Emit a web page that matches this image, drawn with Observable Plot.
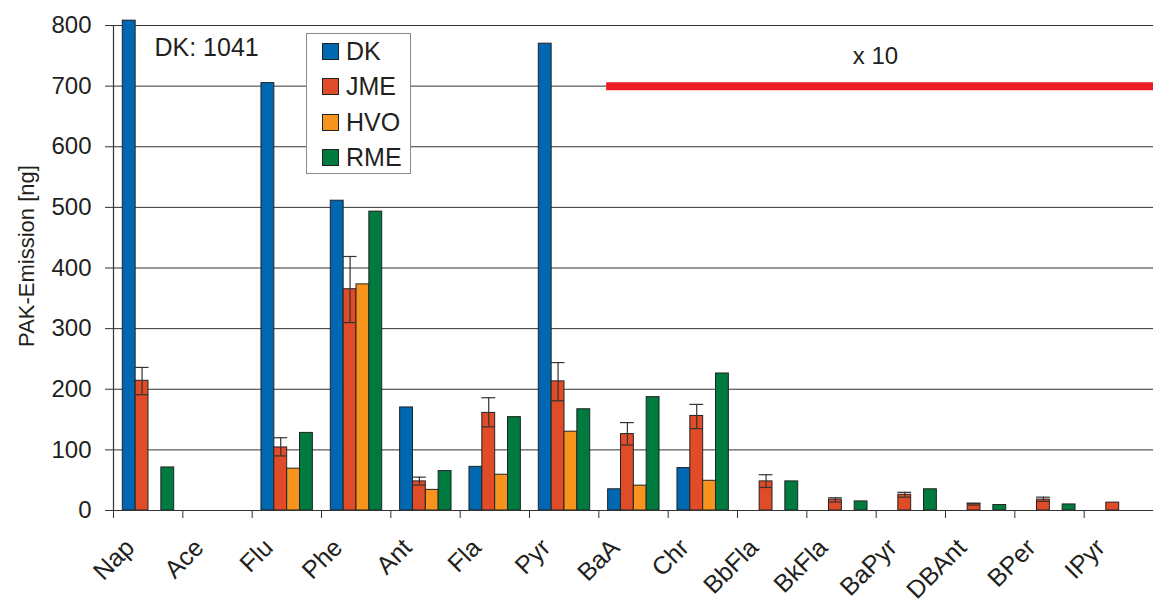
<!DOCTYPE html>
<html>
<head>
<meta charset="utf-8">
<script src="https://cdn.jsdelivr.net/npm/d3@7"></script>
<script src="https://cdn.jsdelivr.net/npm/@observablehq/plot@0.6"></script>
<style>
  html, body { margin: 0; padding: 0; background: #fff; }
  #wrap { position: relative; width: 1153px; height: 603px; font-family: "Liberation Sans", Arial, sans-serif; }
  #legend { position: absolute; left: 306px; top: 33px; width: 103px; height: 139px; border: 1.5px solid #8a8a8a; background: #fff; }
  .item { position: absolute; left: 15px; height: 30px; display: flex; align-items: center; font-size: 25px; color: #231f20; }
  .sw { width: 15px; height: 15px; border: 1px solid #222; margin-right: 7px; }
</style>
</head>
<body>
<div id="wrap"></div>
<script>
// ---- data ----
const categories = ["Nap","Ace","Flu","Phe","Ant","Fla","Pyr","BaA","Chr","BbFla","BkFla","BaPyr","DBAnt","BPer","IPyr"];
const series = ["DK","JME","HVO","RME"];
const colors = ["#0067b1","#e04c27","#f7941e","#007b3f"];
const dk  = [1041, 0, 705, 511, 170, 72, 770, 35, 70, 0, 0, 0, 0, 0, 0];
const jme = [214, 0, 104, 365, 48, 161, 213, 126, 156, 48, 18, 26, 11, 18, 13];
const hvo = [0, 0, 69, 373, 34, 59, 130, 41, 49, 0, 0, 0, 0, 0, 0];
const rme = [71, 0, 128, 493, 65, 154, 167, 187, 226, 48, 15, 35, 9, 10, 0];
const jmeLow  = [191, null, 90, 310, 42, 138, 181, 108, 135, 38, 14, 22, 9, 15, null];
const jmeHigh = [236, null, 120, 419, 55, 186, 244, 145, 175, 59, 21, 30, 12, 22, null];
const yTicks = [0, 100, 200, 300, 400, 500, 600, 700, 800];
const yLabel = "PAK-Emission [ng]";
const factorSpan = [{from: "BaA", to: "IPyr", level: 700, note: "x 10"}];
const clipTop = 808; // bar drawn broken at top of axis

// ---- layout ----
const W = 1153, H = 603, mL = 113, mR = 0, mT = 25, mB = 93;
const band = (W - mL - mR) / categories.length;
const gpad = 9.3, bw = 12.85;

const values = [dk, jme, hvo, rme];
const rows = [];
categories.forEach((c, j) => series.forEach((s, i) => rows.push({cat: c, series: s, value: values[i][j]})));
const errRows = categories.map((c, j) => ({cat: c, lo: jmeLow[j], hi: jmeHigh[j]})).filter(d => d.lo != null);

const barMarks = series.map((s, i) => Plot.barY(rows.filter(d => d.series === s && d.value > 0), {
  x: "cat",
  y: d => Math.min(d.value, clipTop),
  fill: colors[i],
  stroke: "#222",
  strokeWidth: 1,
  insetLeft: gpad + i * bw,
  insetRight: band - gpad - (i + 1) * bw
}));

const jmeDx = gpad + 1.5 * bw - band / 2;

const chart = Plot.plot({
  width: W, height: H,
  marginLeft: mL, marginRight: mR, marginTop: mT, marginBottom: mB,
  style: {fontFamily: "Liberation Sans, Arial, sans-serif", color: "#231f20", background: "#fff"},
  x: {type: "band", domain: categories, padding: 0, round: false, label: null},
  y: {domain: [0, 800], label: null},
  marks: [
    Plot.gridY(yTicks, {stroke: "#333", strokeOpacity: 1, strokeWidth: 1}),
    ...barMarks,
    Plot.ruleX(errRows, {x: "cat", y1: "lo", y2: "hi", dx: jmeDx, stroke: "#333", strokeWidth: 1.2}),
    Plot.tickY(errRows, {x: "cat", y: "hi", stroke: "#333", strokeWidth: 1.2, insetLeft: gpad + bw - 0.5, insetRight: band - gpad - 2 * bw - 0.5}),
    Plot.tickY(errRows, {x: "cat", y: "lo", stroke: "#333", strokeWidth: 1.2, insetLeft: gpad + bw, insetRight: band - gpad - 2 * bw}),
    Plot.ruleY(factorSpan, {y: "level", x1: "from", x2: "to", stroke: "#ed1c24", strokeWidth: 8, insetLeft: gpad - 1.5}),
    Plot.text(factorSpan, {text: "note", frameAnchor: "top", dx: 875 - (mL + W - mR) / 2, dy: 30.5, fontSize: 24, textAnchor: "middle", lineAnchor: "middle", fill: "#231f20"}),
    Plot.text([`DK: ${dk[0]}`], {text: d => d, frameAnchor: "top-left", dx: 41, dy: 22, fontSize: 25, textAnchor: "start", lineAnchor: "middle", fill: "#231f20"}),
    Plot.ruleY([0], {stroke: "#333", strokeWidth: 1.2}),
    Plot.frame({anchor: "left", stroke: "#333", strokeWidth: 1.2}),
    Plot.axisY({ticks: yTicks, tickSize: 8, tickPadding: 14, fontSize: 24, label: null, stroke: "#333"}),
    Plot.axisX({tickSize: 8, tickFormat: () => "", dx: -band / 2, label: null, stroke: "#333"}),
    Plot.axisX({tickSize: 0, tickPadding: 33, tickRotate: -45, dx: -18, fontSize: 25, label: null}),
    Plot.text([yLabel], {text: d => d, frameAnchor: "left", rotate: -90, dx: -(mL - 26), dy: -12, fontSize: 22, textAnchor: "middle", lineAnchor: "middle", fill: "#231f20"})
  ]
});

const wrap = document.getElementById("wrap");
wrap.appendChild(chart);

const legend = document.createElement("div");
legend.id = "legend";
series.forEach((s, i) => {
  const it = document.createElement("div");
  it.className = "item";
  it.style.top = (2 + i * 35.5) + "px";
  it.innerHTML = `<span class="sw" style="background:${colors[i]}"></span><span>${s}</span>`;
  legend.appendChild(it);
});
wrap.appendChild(legend);
</script>
</body>
</html>
